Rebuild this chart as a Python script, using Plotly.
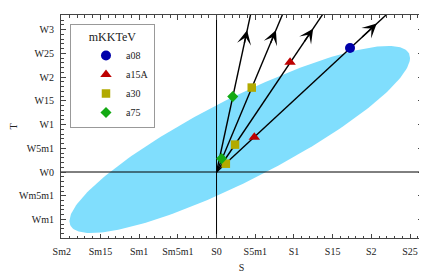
import numpy as np
import plotly.graph_objects as go

# ---- data ----
# allowed (S, T) region: ellipse parameters
ell_center_S = 0.030
ell_center_T = 0.0685
ell_half_S = 0.220
ell_half_T = 0.197
ell_rho = 0.872

# direction lines from the origin (start, far end beyond the frame)
lineA_S = [0.0, 0.0464]
lineA_T = [0.0, 0.35]
lineB_S = [0.0, 0.0899]
lineB_T = [0.0, 0.35]
lineC_S = [0.0, 0.1446]
lineC_T = [0.0, 0.35]
lineD_S = [0.0, 0.2318]
lineD_T = [0.0, 0.35]

# arrowhead tips on each line
arrow_tip_S = [0.0395, 0.0767, 0.1248, 0.2070]
arrow_tip_T = [0.2985, 0.2985, 0.3020, 0.3126]

# marker points per legend entry
a08_S = [0.1725]
a08_T = [0.2612]
a15A_S = [0.0950, 0.0488]
a15A_T = [0.2311, 0.0730]
a30_S = [0.0455, 0.0239, 0.0120]
a30_T = [0.1778, 0.0577, 0.0175]
a75_S = [0.0209, 0.0065]
a75_T = [0.1588, 0.0282]

x_tickvals = [-0.2, -0.15, -0.1, -0.05, 0.0, 0.05, 0.1, 0.15, 0.2, 0.25]
x_ticktext = ["Sm2", "Sm15", "Sm1", "Sm5m1", "S0", "S5m1", "S1", "S15", "S2", "S25"]
y_tickvals = [-0.1, -0.05, 0.0, 0.05, 0.1, 0.15, 0.2, 0.25, 0.3]
y_ticktext = ["Wm1", "Wm5m1", "W0", "W5m1", "W1", "W15", "W2", "W25", "W3"]

FONT = "Liberation Serif"

fig = go.Figure()

# ellipse
t = np.linspace(0, 2 * np.pi, 240)
ell_S = ell_center_S + ell_half_S * np.cos(t)
ell_T = ell_center_T + ell_half_T * (ell_rho * np.cos(t) + np.sqrt(1 - ell_rho ** 2) * np.sin(t))
fig.add_trace(go.Scatter(x=ell_S, y=ell_T, mode="lines", fill="toself",
                         fillcolor="rgb(128,222,253)", line=dict(width=0),
                         hoverinfo="skip", showlegend=False))

# zero reference lines
fig.add_trace(go.Scatter(x=[-1, 1], y=[0, 0], mode="lines",
                         line=dict(color="black", width=1), showlegend=False))
fig.add_trace(go.Scatter(x=[0, 0], y=[-1, 1], mode="lines",
                         line=dict(color="black", width=1), showlegend=False))

# direction lines
for xs, ys in [(lineA_S, lineA_T), (lineB_S, lineB_T), (lineC_S, lineC_T), (lineD_S, lineD_T)]:
    fig.add_trace(go.Scatter(x=xs, y=ys, mode="lines",
                             line=dict(color="black", width=1.4), showlegend=False))

# markers
fig.add_trace(go.Scatter(x=a08_S, y=a08_T, mode="markers", name="a08",
                         marker=dict(symbol="circle", size=10, color="rgb(0,0,170)")))
fig.add_trace(go.Scatter(x=a15A_S, y=a15A_T, mode="markers", name="a15A",
                         marker=dict(symbol="triangle-up", size=10, color="rgb(190,0,0)")))
fig.add_trace(go.Scatter(x=a30_S, y=a30_T, mode="markers", name="a30",
                         marker=dict(symbol="square", size=8.5, color="rgb(178,170,0)")))
fig.add_trace(go.Scatter(x=a75_S, y=a75_T, mode="markers", name="a75",
                         marker=dict(symbol="diamond", size=8.5, color="rgb(20,170,20)")))

# arrowheads
for sx, ty in zip(arrow_tip_S, arrow_tip_T):
    fig.add_annotation(x=sx, y=ty, ax=sx * 0.9, ay=ty * 0.9,
                       xref="x", yref="y", axref="x", ayref="y",
                       text="", showarrow=True, arrowhead=3, arrowsize=1.7,
                       arrowwidth=1.4, arrowcolor="black")

axis_common = dict(
    showgrid=False, zeroline=False, showline=True, linecolor="#444", linewidth=1,
    mirror="allticks", ticks="inside", ticklen=4.5, tickcolor="#444", tickwidth=1,
    tickfont=dict(family=FONT, size=10, color="#222"),
    minor=dict(dtick=0.01, tick0=0, ticks="inside", ticklen=2.5, tickcolor="#444"),
)

fig.update_xaxes(range=[-0.201, 0.2655], tickvals=x_tickvals, ticktext=x_ticktext,
                 title=dict(text="S", font=dict(family=FONT, size=10, color="#222"), standoff=7),
                 ticklabelstandoff=4, **axis_common)
fig.update_yaxes(range=[-0.139, 0.3307], tickvals=y_tickvals, ticktext=y_ticktext,
                 title=dict(text="T", font=dict(family=FONT, size=10, color="#222"), standoff=7),
                 ticklabelstandoff=4, **axis_common)

# the page adds an 8px body margin, so the figure is sized to fit inside it
fig.update_layout(
    width=419, height=267,
    margin=dict(l=53, r=5, t=7, b=37, autoexpand=False),
    plot_bgcolor="white", paper_bgcolor="white",
    font=dict(family=FONT, size=10, color="#222"),
    legend=dict(x=0.0249, y=0.958, xanchor="left", yanchor="top",
                bgcolor="white", bordercolor="#999", borderwidth=1,
                font=dict(family=FONT, size=10, color="#222"),
                title=dict(text="mKKTeV", side="top center"),
                indentation=15,
                entrywidth=37, entrywidthmode="pixels"),
)

fig.write_html("out.html")
